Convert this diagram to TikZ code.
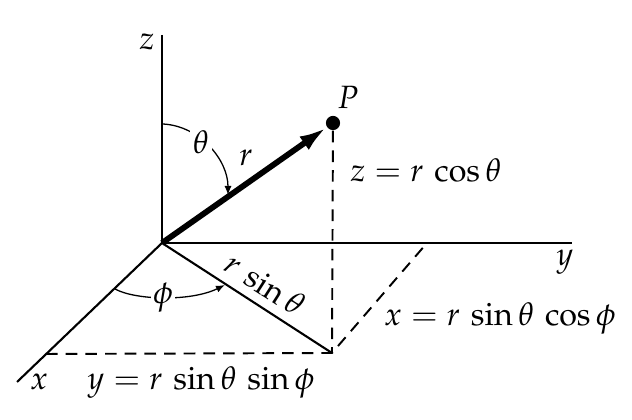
\documentclass[tikz,border=0pt]{standalone}
\usepackage{mathpazo}
\usetikzlibrary{arrows.meta}
\begin{document}
\begin{tikzpicture}[x=0.31pt,y=-0.31pt,
  axis/.style={line width=0.65pt},
  dashln/.style={line width=0.6pt, dash pattern=on 3.6pt off 2.5pt},
  anglearc/.style={line width=0.4pt,-{Latex[length=2.8pt,width=2.2pt]}},
  lbl/.style={inner sep=0.5pt},
  cover/.style={fill=white,inner sep=0.8pt}]
\useasboundingbox (0,0) rectangle (632,420);
\coordinate (O) at (162,243);
\coordinate (Zend) at (162,35);
\coordinate (Yend) at (572,243);
\coordinate (Xend) at (17,382);
\coordinate (Q) at (332,353);
\coordinate (Yq) at (427,243);
\coordinate (Xq) at (46,354);
\coordinate (thS) at (163,124);
\coordinate (thE) at (228,195);
\coordinate (phS) at (115,289);
\coordinate (phE) at (225,285);
\node[circle,fill=black,inner sep=0pt,minimum size=4.4pt] (P) at (333,123) {};
\draw[axis] (Zend) -- (O) -- (Yend);
\draw[axis] (O) -- (Xend);
\draw[axis] (O) -- (Q);
\draw[dashln] (P) -- (Q);
\draw[dashln] (Xq) -- (Q) -- (Yq);
\draw[line width=1.8pt,-{Latex[length=8.5pt,width=5pt]}] (O) -- (P);
\draw[anglearc] (thS) .. controls (200,126) and (228,160) .. (thE);
\draw[anglearc] (phS) .. controls (135,300) and (190,302) .. (phE);
\node[lbl] (zlab) at (147,42) {$z$};
\node[lbl] (Plab) at (348,97) {$P$};
\node[cover] (thlab) at (201,142) {$\theta$};
\node[lbl] (rlab) at (246,158) {$r$};
\node[lbl] (zeq) at (426,170) {$z = r\,\cos\theta$};
\node[lbl] (ylab) at (565,262) {$y$};
\node[cover] (phlab) at (163,298) {$\phi$};
\node[lbl,rotate=-32.7] (rsin) at (265,284) {$r\,\sin\theta$};
\node[lbl] (xeq) at (500,318) {$x = r\,\sin\theta\,\cos\phi$};
\node[lbl] (xlab) at (39,382) {$x$};
\node[lbl] (yeq) at (201,382) {$y = r\,\sin\theta\,\sin\phi$};
\end{tikzpicture}
\end{document}
